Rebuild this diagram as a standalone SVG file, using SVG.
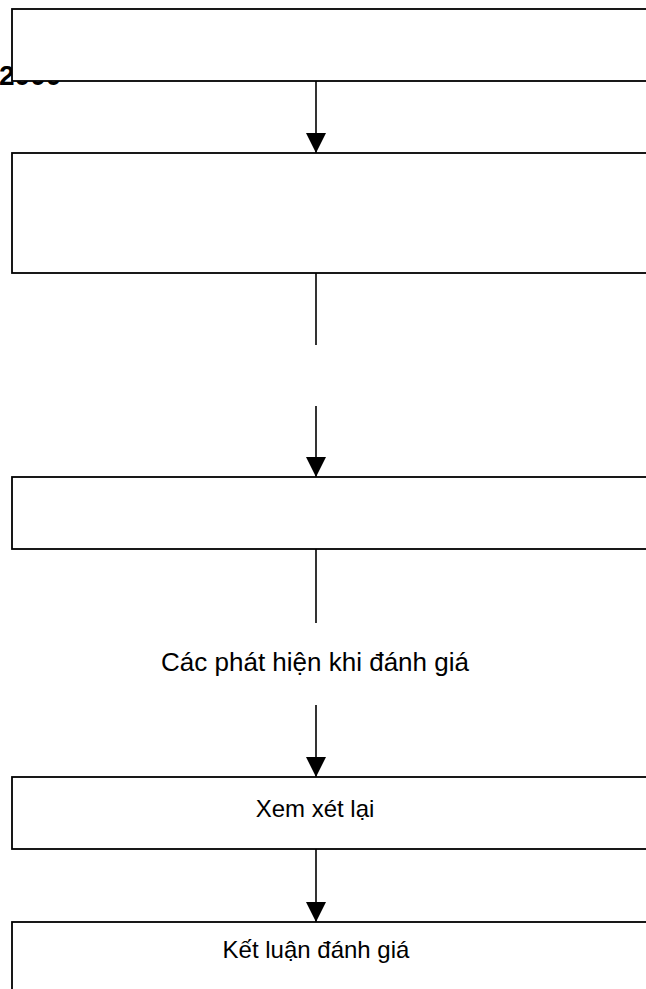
<svg xmlns="http://www.w3.org/2000/svg" width="646" height="989" viewBox="0 0 646 989">
<style>
.box{fill:#fff;stroke:#000;stroke-width:1.8}
.ln{stroke:#000;stroke-width:1.6;fill:none}
.lbl{font-family:"Liberation Sans",Arial,sans-serif;font-size:24px;fill:#000;text-anchor:middle}
.yr{font-family:"Liberation Sans",Arial,sans-serif;font-size:28px;font-weight:bold;fill:#000}
</style>
<defs>
<marker id="ah" markerWidth="20" markerHeight="20" refX="20" refY="10" orient="auto" markerUnits="userSpaceOnUse">
<path d="M0,0 L20,10 L0,20 Z" fill="#000"/>
</marker>
</defs>
<rect width="646" height="989" fill="#fff"/>
<text class="yr" x="-1" y="85">2000</text>
<g id="n1"><rect class="box" x="12" y="9" width="700" height="72"/></g>
<g id="n2"><rect class="box" x="12" y="153" width="700" height="120"/></g>
<g id="n3"><rect class="box" x="12" y="477" width="700" height="72"/></g>
<g id="n4"><text class="lbl" x="315" y="671" style="font-size:26px">Các phát hiện khi đánh giá</text></g>
<g id="n5"><rect class="box" x="12" y="777" width="700" height="72"/><text class="lbl" x="315" y="817">Xem xét lại</text></g>
<g id="n6"><rect class="box" x="12" y="922" width="700" height="100"/><text class="lbl" x="316" y="958">Kết luận đánh giá</text></g>
<g id="connectors">
<line class="ln" x1="316" y1="81" x2="316" y2="153" marker-end="url(#ah)"/>
<line class="ln" x1="316" y1="273" x2="316" y2="345"/>
<line class="ln" x1="316" y1="406" x2="316" y2="477" marker-end="url(#ah)"/>
<line class="ln" x1="316" y1="549" x2="316" y2="623"/>
<line class="ln" x1="316" y1="705" x2="316" y2="777" marker-end="url(#ah)"/>
<line class="ln" x1="316" y1="849" x2="316" y2="922" marker-end="url(#ah)"/>
</g>
</svg>
